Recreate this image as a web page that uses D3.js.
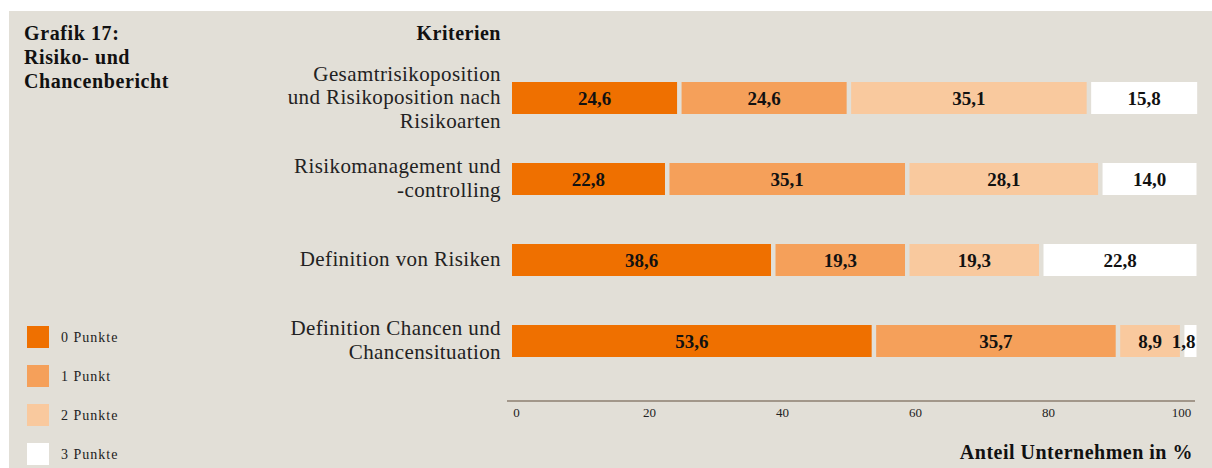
<!DOCTYPE html>
<meta charset="utf-8" />
<script src="https://d3js.org/d3.v7.js"></script>
<style>
  body { margin: 0; background: #ffffff; }
  svg text { font-family: "Liberation Serif", "DejaVu Serif", serif; }
</style>
<div id="chart"></div>
<script>
  // data
  const categories = [
    ["Gesamtrisikoposition", "und Risikoposition nach", "Risikoarten"],
    ["Risikomanagement und", "-controlling"],
    ["Definition von Risiken"],
    ["Definition Chancen und", "Chancensituation"]
  ];
  const seriesNames = ["0 Punkte", "1 Punkt", "2 Punkte", "3 Punkte"];
  const punkte0 = [24.6, 22.8, 38.6, 53.6];
  const punkte1 = [24.6, 35.1, 19.3, 35.7];
  const punkte2 = [35.1, 28.1, 19.3, 8.9];
  const punkte3 = [15.8, 14.0, 22.8, 1.8];
  const tickValues = [0, 20, 40, 60, 80, 100];
  const colors = ["#ef7000", "#f5a05a", "#f9c99e", "#ffffff"];

  const width = 1212, height = 468;
  const svg = d3.select("#chart").append("svg")
    .attr("width", width)
    .attr("height", height);

  // panel
  svg.append("rect")
    .attr("x", 9).attr("y", 11)
    .attr("width", width - 9).attr("height", height - 11)
    .attr("fill", "#e2dfd7");

  // title
  const title = svg.append("text")
    .attr("x", 24).attr("y", 40)
    .style("font-size", "20px")
    .style("font-weight", "bold")
    .style("letter-spacing", "0.6px")
    .attr("fill", "#111");
  ["Grafik 17:", "Risiko- und", "Chancenbericht"].forEach((t, i) => {
    title.append("tspan").attr("x", 24).attr("dy", i === 0 ? 0 : 24).text(t);
  });

  svg.append("text")
    .attr("x", 501).attr("y", 40)
    .attr("text-anchor", "end")
    .style("font-size", "20px")
    .style("font-weight", "bold")
    .style("letter-spacing", "0.5px")
    .attr("fill", "#111")
    .text("Kriterien");

  const rowIds = categories.map((d, i) => i);
  const y = d3.scalePoint().domain(rowIds).range([98, 341]);
  const barH = 32;
  const barStart = 512;
  const gap = 4.5;
  const w = d3.scaleLinear().domain([0, 100]).range([0, 671]);

  const series = [punkte0, punkte1, punkte2, punkte3];

  // category labels
  rowIds.forEach(i => {
    const lines = categories[i];
    const lh = 23.5;
    const t = svg.append("text")
      .attr("text-anchor", "end")
      .style("font-size", "21px")
      .style("letter-spacing", "0.4px")
      .attr("fill", "#222")
      .attr("y", y(i) - (lines.length - 1) * lh / 2 + 6);
    lines.forEach((l, k) => {
      t.append("tspan").attr("x", 501).attr("dy", k === 0 ? 0 : lh).text(l);
    });
  });

  // stacked bars
  rowIds.forEach(i => {
    let cum = 0;
    series.forEach((s, j) => {
      const v = s[i];
      const x0 = barStart + w(cum) + j * gap;
      const bw = w(v);
      svg.append("rect")
        .attr("x", x0)
        .attr("y", y(i) - barH / 2)
        .attr("width", bw)
        .attr("height", barH)
        .attr("fill", colors[j]);
      const lab = svg.append("text")
        .attr("y", y(i) + 7)
        .style("font-size", "19px")
        .style("font-weight", "bold")
        .attr("fill", "#111")
        .text(d3.format(".1f")(v).replace(".", ","));
      if (bw < 30) {
        lab.attr("x", x0 + bw - 1).attr("text-anchor", "end");
      } else {
        lab.attr("x", x0 + bw / 2).attr("text-anchor", "middle");
      }
      cum += v;
    });
  });

  // x axis
  const x = d3.scaleLinear().domain([0, 100]).range([516, 1181]);
  svg.append("line")
    .attr("x1", 507).attr("x2", 1195)
    .attr("y1", 401).attr("y2", 401)
    .attr("stroke", "#8c7f70")
    .attr("stroke-width", 1.5);
  const xAxis = svg.append("g")
    .attr("transform", "translate(0,404)")
    .call(d3.axisBottom(x).tickValues(tickValues).tickSize(0).tickPadding(4));
  xAxis.select(".domain").remove();
  xAxis.selectAll("text")
    .style("font-family", "'Liberation Serif', serif")
    .style("font-size", "13px")
    .attr("fill", "#222");

  svg.append("text")
    .attr("x", 1193).attr("y", 459)
    .attr("text-anchor", "end")
    .style("font-size", "20px")
    .style("font-weight", "bold")
    .style("letter-spacing", "0.5px")
    .attr("fill", "#111")
    .text("Anteil Unternehmen in %");

  // legend
  seriesNames.forEach((n, j) => {
    const ly = 326 + j * 39;
    svg.append("rect")
      .attr("x", 27).attr("y", ly)
      .attr("width", 22).attr("height", 22)
      .attr("fill", colors[j]);
    svg.append("text")
      .attr("x", 61).attr("y", ly + 16)
      .style("font-size", "14px")
      .style("letter-spacing", "1px")
      .attr("fill", "#222")
      .text(n);
  });
</script>
